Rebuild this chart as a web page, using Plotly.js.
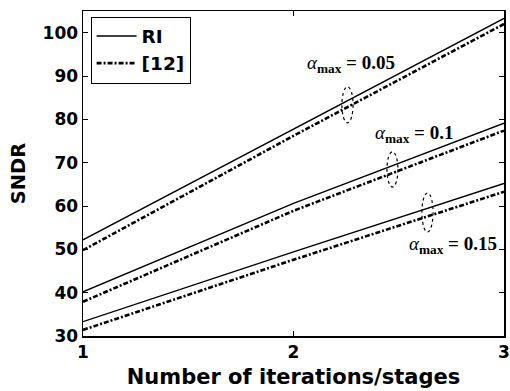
<!DOCTYPE html>
<html>
<head>
<meta charset="utf-8">
<script src="https://cdn.plot.ly/plotly-3.0.1.min.js"></script>
<style>html,body{margin:0;padding:0;background:#fff;}#chart{width:510px;height:391px;}</style>
</head>
<body>
<div id="chart"></div>
<script>
// Data
const stages = [1, 2, 3];
const ri_a005 = [52.2, 77.8, 103.3];
const ri_a010 = [40.2, 60.6, 79.1];
const ri_a015 = [33.3, 49.4, 65.2];
const ref12_a005 = [49.8, 76.2, 102.0];
const ref12_a010 = [37.9, 58.9, 77.4];
const ref12_a015 = [31.4, 47.6, 63.3];
const seriesNames = ['RI', '[12]'];
const alphaLabels = ['0.05', '0.1', '0.15'];
const xTicks = [1, 2, 3];
const yTicks = [30, 40, 50, 60, 70, 80, 90, 100];

const solid = {color: '#000', width: 1.4, dash: 'solid'};
const dashdot = {color: '#000', width: 2.6, dash: '5px,2px,2px,2px'};

function tr(y, name, line, show) {
  return {x: stages, y: y, type: 'scatter', mode: 'lines', name: name,
          line: line, showlegend: show, legendgroup: name, hoverinfo: 'skip'};
}

const data = [
  tr(ri_a005, seriesNames[0], solid, true),
  tr(ref12_a005, seriesNames[1], dashdot, true),
  tr(ri_a010, seriesNames[0], solid, false),
  tr(ref12_a010, seriesNames[1], dashdot, false),
  tr(ri_a015, seriesNames[0], solid, false),
  tr(ref12_a015, seriesNames[1], dashdot, false)
];

const SANS = 'DejaVu Sans, Liberation Sans, Arial, sans-serif';
const tickFont = {family: SANS, size: 17, color: '#000', weight: 'bold'};
const annFont = {family: 'Liberation Serif, Times New Roman, serif', size: 19, color: '#000'};

function alphaText(v) {
  return '<i>α</i><sub><b>max</b></sub><b> = ' + v + '</b>';
}

const layout = {
  width: 510, height: 391,
  margin: {l: 83, r: 6, t: 11, b: 55},
  paper_bgcolor: '#fff', plot_bgcolor: '#fff',
  font: {family: SANS, color: '#000'},
  xaxis: {
    range: [1, 3], tickvals: xTicks, ticktext: xTicks.map(v => '<b>' + v + '</b>'),
    ticks: 'inside', ticklen: 5, tickcolor: '#000', tickwidth: 1,
    showline: true, linecolor: '#000', linewidth: 1.5, mirror: 'ticks',
    showgrid: false, zeroline: false, tickfont: tickFont,
    title: {text: '<b>Number of iterations/stages</b>', font: {family: SANS, size: 21, color: '#000'}, standoff: 8}
  },
  yaxis: {
    range: [30, 105], tickvals: yTicks, ticktext: yTicks.map(v => '<b>' + v + '</b>'),
    ticks: 'inside', ticklen: 5, tickcolor: '#000', tickwidth: 1,
    showline: true, linecolor: '#000', linewidth: 1.5, mirror: 'ticks',
    showgrid: false, zeroline: false, tickfont: tickFont,
    title: {text: '<b>SNDR</b>', font: {family: SANS, size: 19.5, color: '#000'}, standoff: 12}
  },
  legend: {
    x: 0.018, y: 0.983, xanchor: 'left', yanchor: 'top',
    bgcolor: '#fff', bordercolor: '#000', borderwidth: 1,
    font: {family: SANS, size: 18.5, color: '#000', weight: 'bold'},
    tracegroupgap: 0, itemwidth: 40
  },
  annotations: [
    {x: 2.055, y: 92.8, xref: 'x', yref: 'y', xanchor: 'left', yanchor: 'middle', showarrow: false, text: alphaText(alphaLabels[0]), font: annFont},
    {x: 2.378, y: 76.6, xref: 'x', yref: 'y', xanchor: 'left', yanchor: 'middle', showarrow: false, text: alphaText(alphaLabels[1]), font: annFont},
    {x: 2.537, y: 51.0, xref: 'x', yref: 'y', xanchor: 'left', yanchor: 'middle', showarrow: false, text: alphaText(alphaLabels[2]), font: annFont}
  ],
  shapes: [
    {type: 'circle', xref: 'x', yref: 'y', x0: 2.230, x1: 2.283, y0: 79.2, y1: 87.5, line: {color: '#000', width: 1.2, dash: 'dot'}},
    {type: 'circle', xref: 'x', yref: 'y', x0: 2.444, x1: 2.496, y0: 64.4, y1: 72.5, line: {color: '#000', width: 1.2, dash: 'dot'}},
    {type: 'circle', xref: 'x', yref: 'y', x0: 2.610, x1: 2.663, y0: 54.0, y1: 63.0, line: {color: '#000', width: 1.2, dash: 'dot'}}
  ]
};

Plotly.newPlot('chart', data, layout, {displayModeBar: false, staticPlot: true});
</script>
</body>
</html>
